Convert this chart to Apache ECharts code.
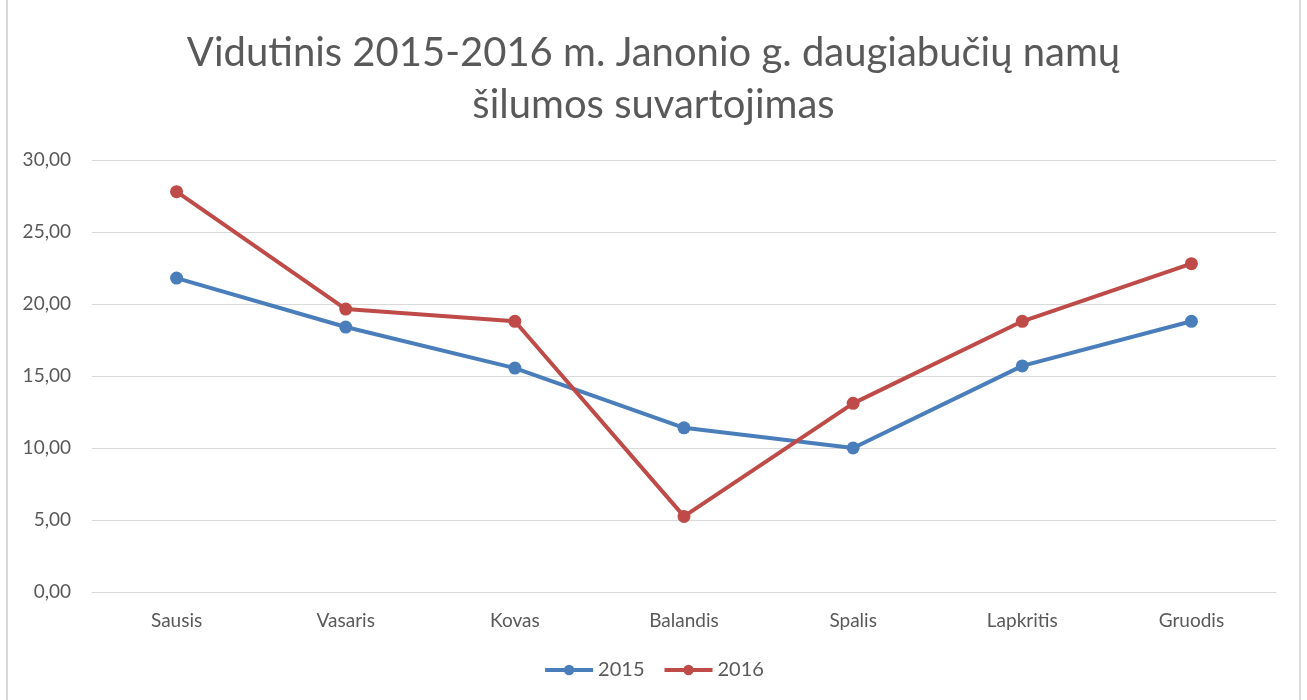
<!DOCTYPE html>
<html>
<head>
<meta charset="utf-8">
<script src="https://cdn.jsdelivr.net/npm/echarts@6/dist/echarts.min.js"></script>
<style>
    html, body { margin: 0; padding: 0; background: #fff; }
    #chart {
        position: absolute; left: 6px; top: -2px;
        width: 1295px; height: 710px;
        border: 2px solid #d9d9d9; box-sizing: border-box;
    }
</style>
</head>
<body>
<div id="chart"></div>
<script>
    const months = ['Sausis', 'Vasaris', 'Kovas', 'Balandis', 'Spalis', 'Lapkritis', 'Gruodis']
    const y2015 = [21.8, 18.4, 15.55, 11.4, 10.0, 15.7, 18.8]
    const y2016 = [27.8, 19.65, 18.8, 5.25, 13.1, 18.8, 22.8]

    const font = 'Lato, "Open Sans", sans-serif'
    const blue = '#4a7ebb'
    const red = '#be4b48'

    let chart = echarts.init(document.getElementById('chart'))
    chart.setOption({
        animation: false,
        title: {
            text: 'Vidutinis 2015-2016 m. Janonio g. daugiabučių namų\nšilumos suvartojimas',
            left: 'center',
            top: 22,
            textStyle: {
                fontFamily: font,
                fontSize: 40,
                fontWeight: 'normal',
                color: '#595959',
                lineHeight: 52
            }
        },
        legend: {
            bottom: 21,
            left: 'center',
            itemWidth: 48,
            itemHeight: 13,
            itemGap: 18,
            textStyle: { fontFamily: font, fontSize: 20, color: '#595959' },
            lineStyle: { width: 4 },
            data: ['2015', '2016']
        },
        grid: {
            left: 84,
            right: 23,
            top: 160,
            bottom: 114
        },
        xAxis: {
            type: 'category',
            data: months,
            axisLine: { lineStyle: { color: '#d9d9d9', width: 1 } },
            axisTick: { show: false },
            axisLabel: { fontFamily: font, fontSize: 19, color: '#595959', margin: 19 }
        },
        yAxis: {
            type: 'value',
            min: 0,
            max: 30,
            interval: 5,
            axisLine: { show: false },
            axisTick: { show: false },
            splitLine: { lineStyle: { color: '#d9d9d9', width: 1 } },
            axisLabel: {
                fontFamily: font, fontSize: 19, color: '#595959', margin: 21,
                formatter: v => v.toFixed(2).replace('.', ',')
            }
        },
        series: [
            {
                name: '2015',
                type: 'line',
                data: y2015,
                symbol: 'circle',
                symbolSize: 13,
                lineStyle: { width: 4, color: blue },
                itemStyle: { color: blue }
            },
            {
                name: '2016',
                type: 'line',
                data: y2016,
                symbol: 'circle',
                symbolSize: 13,
                lineStyle: { width: 4, color: red },
                itemStyle: { color: red }
            }
        ]
    })
</script>
</body>
</html>
